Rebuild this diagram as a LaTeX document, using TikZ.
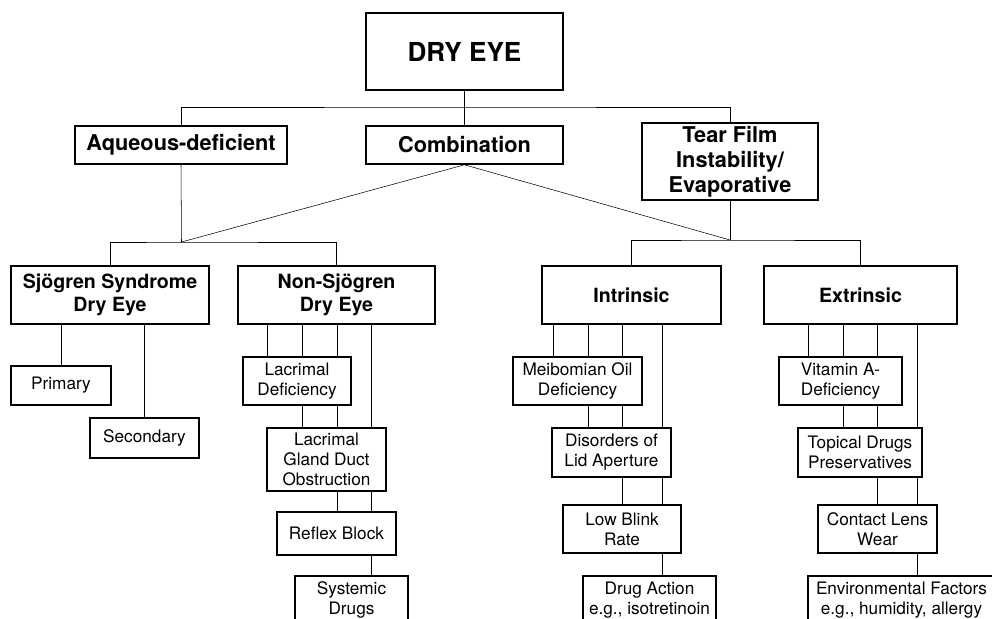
\documentclass[tikz,border=0pt]{standalone}
\usepackage{fontspec}
\setmainfont{TeX Gyre Heros}
\usetikzlibrary{backgrounds}

\tikzset{
  box/.style={draw, fill=white, line width=1.2pt, inner sep=0pt, align=center},
  sz/.style 2 args={minimum width=#1*0.75pt, minimum height=#2*0.75pt},
  toplbl/.style={box, font=\fontsize{19.6}{23}\selectfont\bfseries},
  mainlbl/.style={box, font=\fontsize{16.3}{18.6}\selectfont\bfseries},
  sublbl/.style={box, font=\fontsize{14.7}{17.4}\selectfont\bfseries},
  leaf/.style={box, font=\fontsize{12.9}{15}\selectfont},
  link/.style={line width=1.1pt}
}

\begin{document}
\begin{tikzpicture}[x=0.75pt, y=-0.75pt]
            \useasboundingbox (0,0) rectangle (992,618);
            \clip (0,0) rectangle (992,618);
            % top levels
            \node[toplbl, sz={197}{77}] (dry) at (464.5,51.5) {DRY EYE};
            \node[mainlbl, sz={212}{38}] (aq) at (181,145) {Aqueous-deficient};
            \node[mainlbl, sz={197}{38}] (comb) at (464.5,145) {Combination};
            \node[mainlbl, sz={176}{77}] (tear) at (730,161.5) {Tear Film\\Instability/\\Evaporative};
            \node[sublbl, sz={198}{58}] (sjo) at (110,295) {Sjögren Syndrome\\Dry Eye};
            \node[sublbl, sz={197}{58}] (nonsjo) at (336.5,295) {Non-Sjögren\\Dry Eye};
            \node[sublbl, sz={179}{58}] (intr) at (631.5,295) {Intrinsic};
            \node[sublbl, sz={193}{58}] (extr) at (860.5,295) {Extrinsic};
            % leaves
            \node[leaf, sz={100}{39}] (prim) at (61,385.5) {Primary};
            \node[leaf, sz={109}{40}] (sec) at (144.5,438) {Secondary};
            \node[leaf, sz={108}{48}] (lacdef) at (297,381) {Lacrimal\\Deficiency};
            \node[leaf, sz={119}{63}] (lacgl) at (326.5,459.5) {Lacrimal\\Gland Duct\\Obstruction};
            \node[leaf, sz={119}{43}] (reflex) at (336.5,533.5) {Reflex Block};
            \node[leaf, sz={113}{48}] (sysdrug) at (351.5,600) {Systemic\\Drugs};
            \node[leaf, sz={129}{48}] (meib) at (577.5,381) {Meibomian Oil\\Deficiency};
            \node[leaf, sz={119}{49}] (disord) at (611.5,452.5) {Disorders of\\Lid Aperture};
            \node[leaf, sz={118}{48}] (lowblink) at (622,529) {Low Blink\\Rate};
            \node[leaf, sz={133}{48}] (drugact) at (649.5,600) {Drug Action\\e.g., isotretinoin};
            \node[leaf, sz={123}{48}] (vita) at (840.5,381) {Vitamin A-\\Deficiency};
            \node[leaf, sz={124}{49}] (topical) at (860,452.5) {Topical Drugs\\Preservatives};
            \node[leaf, sz={119}{48}] (contact) at (877.5,529) {Contact Lens\\Wear};
            \node[leaf, sz={187}{48}] (env) at (901.5,600) {Environmental Factors\\e.g., humidity, allergy};
            % connectors
            \begin{scope}[on background layer, link]
            \coordinate (topbar) at (464.5,107);
            \coordinate (lbar) at (181.5,242);
            \coordinate (rbar) at (730,240);
            \draw (dry.south) -- (comb.north);
            \draw (aq.north) |- (topbar) -| (tear.north);
            \draw (aq.south) -- (lbar);
            \draw (comb.south) -- (lbar);
            \draw (sjo.north) |- (lbar) -| (nonsjo.north);
            \draw (tear.south) -- (rbar);
            \draw (comb.south) -- (rbar);
            \draw (intr.north) |- (rbar) -| (extr.north);
            \draw (sjo.south -| prim.north) -- (prim.north);
            \draw (sjo.south -| sec.north) -- (sec.north);
            \foreach \xx/\kid in {267/lacdef, 302/lacgl, 337/reflex, 371/sysdrug}
              \draw (\xx,0 |- nonsjo.south) -- (\xx,0 |- \kid.north);
            \foreach \xx/\kid in {553/meib, 588/disord, 622/lowblink, 662/drugact}
              \draw (\xx,0 |- intr.south) -- (\xx,0 |- \kid.north);
            \foreach \xx/\kid in {808/vita, 843/topical, 877/contact, 917/env}
              \draw (\xx,0 |- extr.south) -- (\xx,0 |- \kid.north);
            \end{scope}
        \end{tikzpicture}
\end{document}
